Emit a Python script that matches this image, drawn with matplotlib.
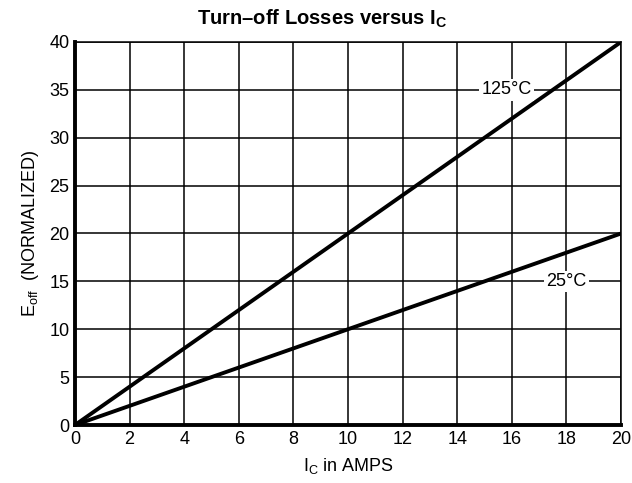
import matplotlib
matplotlib.use("Agg")
import matplotlib.pyplot as plt

fam = "Liberation Sans"
plt.rcParams['font.family'] = [fam, 'DejaVu Sans']
plt.rcParams['mathtext.fontset'] = 'custom'
plt.rcParams['mathtext.rm'] = fam
plt.rcParams['mathtext.it'] = fam
plt.rcParams['mathtext.bf'] = fam + ':bold'

ic = [0, 20]
eoff_125 = [0, 40]
eoff_25 = [0, 20]
xticks = [0, 2, 4, 6, 8, 10, 12, 14, 16, 18, 20]
yticks = [0, 5, 10, 15, 20, 25, 30, 35, 40]

fig = plt.figure(figsize=(6.32, 4.83), dpi=100)
ax = fig.add_axes([75/632, 58/483, 546/632, 383/483])

ax.plot(ic, eoff_125, color='black', lw=2.8, solid_capstyle='butt', zorder=3)
ax.plot(ic, eoff_25, color='black', lw=2.8, solid_capstyle='butt', zorder=3)

ax.set_xlim(0, 20)
ax.set_ylim(0, 40)
ax.set_xticks(xticks)
ax.set_yticks(yticks)
ax.tick_params(length=0, labelsize=13, pad=4)
ax.grid(True, color='black', lw=1.1)
ax.set_axisbelow(True)
for s in ['top', 'right']:
    ax.spines[s].set_linewidth(1.1)
for s in ['left', 'bottom']:
    ax.spines[s].set_linewidth(2.8)

ax.text(15.8, 35, "125°C", fontsize=13, ha='center', va='center', zorder=4,
        bbox=dict(facecolor='white', edgecolor='none', pad=1.5))
ax.text(18.0, 15, "25°C", fontsize=13, ha='center', va='center', zorder=4,
        bbox=dict(facecolor='white', edgecolor='none', pad=1.5))

ax.set_xlabel(r"I$_\mathregular{C}$ in AMPS", fontsize=13, labelpad=6)
ax.set_ylabel(r"E$_\mathregular{off}$  (NORMALIZED)", fontsize=13, labelpad=6)
fig.text(0.51, 1 - 19/483, r"Turn–off Losses versus I$_\mathbf{C}$", fontsize=14.5,
         fontweight='bold', ha='center', va='center')

fig.savefig("out.png", dpi=100)
